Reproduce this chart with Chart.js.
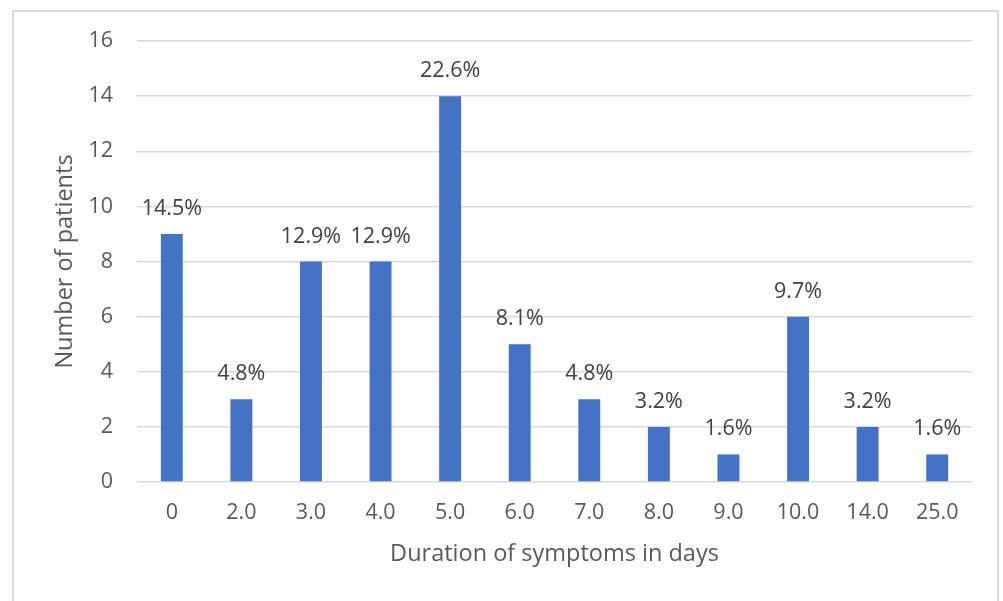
<!DOCTYPE html>
<html>
<head>
<meta charset="utf-8">
<script src="https://cdn.jsdelivr.net/npm/chart.js@4.4.0/dist/chart.umd.min.js"></script>
<style>
  html, body { margin: 0; padding: 0; background: #fff; }
  #wrap { position: relative; width: 1003px; height: 601px; overflow: hidden; }
  #frame {
    position: absolute; left: 12px; top: 10px; width: 987px; height: 620px;
    border: 2px solid #d9d9d9; box-sizing: border-box;
  }
  canvas { position: absolute; left: 0; top: 0; }
</style>
</head>
<body>
<div id="wrap">
  <div id="frame"></div>
  <canvas id="chart" width="1003" height="601"></canvas>
</div>
<script>
const durations = ['0', '2.0', '3.0', '4.0', '5.0', '6.0', '7.0', '8.0', '9.0', '10.0', '14.0', '25.0'];
const patients = [9, 3, 8, 8, 14, 5, 3, 2, 1, 6, 2, 1];
const percentLabels = ['14.5%', '4.8%', '12.9%', '12.9%', '22.6%', '8.1%', '4.8%', '3.2%', '1.6%', '9.7%', '3.2%', '1.6%'];

const FONT = 'Open Sans';
const TEXT = '#595959';

// percent labels above each bar
const barLabels = {
  id: 'barLabels',
  afterDatasetsDraw(chart) {
    const ctx = chart.ctx;
    const meta = chart.getDatasetMeta(0);
    ctx.save();
    ctx.font = `21.5px "${FONT}"`;
    ctx.fillStyle = '#404040';
    ctx.textAlign = 'center';
    ctx.textBaseline = 'alphabetic';
    meta.data.forEach((bar, i) => {
      ctx.fillText(percentLabels[i], bar.x, bar.y - 19);
    });
    ctx.restore();
  },
};

new Chart(document.getElementById('chart'), {
  type: 'bar',
  data: {
    labels: durations,
    datasets: [{
      label: 'Number of patients',
      data: patients,
      backgroundColor: '#4472C4',
      borderWidth: 0,
      barPercentage: 0.315,
      categoryPercentage: 1,
    }],
  },
  plugins: [barLabels],
  options: {
    responsive: false,
    animation: false,
    layout: { padding: { left: 0, right: 31, top: 41, bottom: 0 } },
    plugins: {
      legend: { display: false },
      tooltip: { enabled: false },
    },
    scales: {
      x: {
        afterFit: (scale) => { scale.height = 119; },
        grid: { display: false, drawTicks: false },
        border: { display: false },
        ticks: {
          color: TEXT,
          padding: 18,
          font: { family: FONT, size: 21.5 },
        },
        title: {
          display: true,
          text: 'Duration of symptoms in days',
          color: TEXT,
          font: { family: FONT, size: 23.5 },
          padding: { top: 0, bottom: 33 },
        },
      },
      y: {
        min: 0,
        max: 16,
        afterFit: (scale) => { scale.width = 137; },
        grid: { color: '#d9d9d9', lineWidth: 1.5, drawTicks: false },
        border: { display: false },
        ticks: {
          stepSize: 2,
          color: TEXT,
          padding: 24,
          font: { family: FONT, size: 21.5 },
        },
        title: {
          display: true,
          text: 'Number of patients',
          color: TEXT,
          font: { family: FONT, size: 23.5 },
          padding: { top: 51, bottom: 0 },
        },
      },
    },
  },
});
</script>
</body>
</html>
